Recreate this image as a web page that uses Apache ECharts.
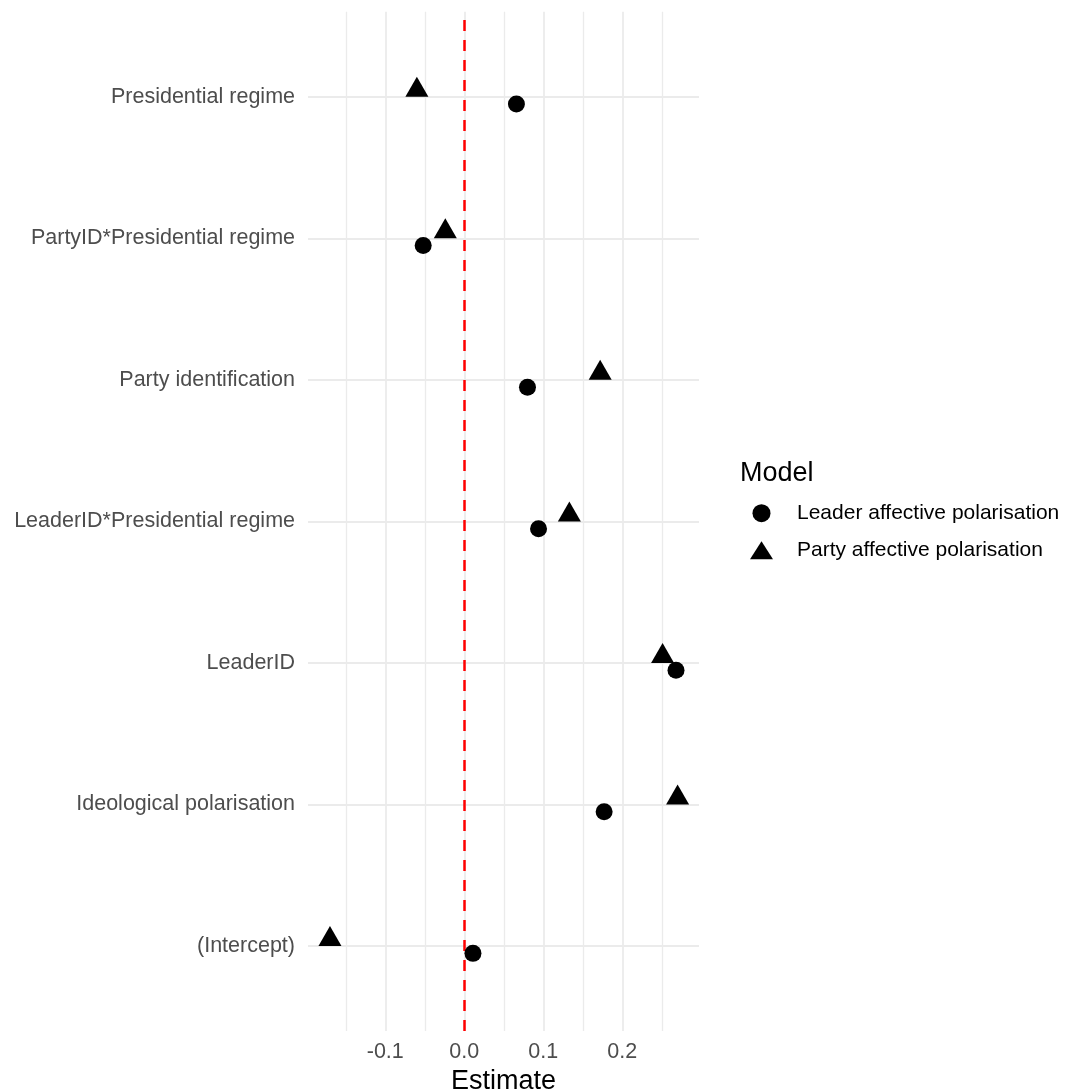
<!DOCTYPE html>
<html>
<head>
<meta charset="utf-8">
<title>Model estimates</title>
<script src="https://cdn.jsdelivr.net/npm/echarts@6/dist/echarts.min.js"></script>
<style>
  html, body { margin: 0; padding: 0; background: #ffffff; }
  #chart { width: 1079px; height: 1089px; }
</style>
</head>
<body>
<div id="chart"></div>
<script>
// Terms, listed from the top of the plot to the bottom
const terms = [
  'Presidential regime',
  'PartyID*Presidential regime',
  'Party identification',
  'LeaderID*Presidential regime',
  'LeaderID',
  'Ideological polarisation',
  '(Intercept)'
];

// Coefficient estimates for each model, in the same order as terms
const leaderEstimates = [0.066, -0.052, 0.080, 0.094, 0.268, 0.177, 0.011];
const partyEstimates  = [-0.060, -0.024, 0.172, 0.133, 0.251, 0.270, -0.170];

const seriesNames = ['Leader affective polarisation', 'Party affective polarisation'];

// Axis ticks
const xMajorTicks = [-0.1, 0.0, 0.1, 0.2];
const xMinorTicks = [-0.15, -0.05, 0.05, 0.15, 0.25];

// Terms sit at integer positions, top term highest
const termPositions = terms.map((t, i) => terms.length - i);
const termByPosition = {};
terms.forEach((t, i) => { termByPosition[termPositions[i]] = t; });

const FONT = '"Liberation Sans", Arial, Helvetica, sans-serif';
const GRID_COLOR = '#ebebeb';

const chart = echarts.init(document.getElementById('chart'), null, {
  renderer: 'canvas', width: 1079, height: 1089
});

const lineMarks = (data, width, color, type) => ({
  silent: true,
  symbol: 'none',
  z: 0,
  label: { show: false },
  emphasis: { disabled: true },
  animation: false,
  lineStyle: { color: color, width: width, type: type },
  data: data
});

chart.setOption({
  backgroundColor: '#ffffff',
  animation: false,
  textStyle: { fontFamily: FONT },
  title: {
    text: 'Model',
    left: 740,
    top: 460,
    padding: 0,
    textStyle: { fontFamily: FONT, fontSize: 27, fontWeight: 'normal', color: '#000000', lineHeight: 28 }
  },
  legend: {
    orient: 'vertical',
    left: 750,
    top: 502.7,
    padding: 0,
    itemWidth: 23,
    itemHeight: 18,
    itemGap: 16,
    selectedMode: false,
    textStyle: {
      fontFamily: FONT, fontSize: 21, color: '#000000', lineHeight: 18,
      padding: [0, 0, 0, 19]
    },
    data: [
      { name: seriesNames[0], icon: 'circle' },
      { name: seriesNames[1], icon: 'triangle' }
    ]
  },
  grid: {
    left: 308, right: 380, top: 11.8, bottom: 58,
    containLabel: false,
    outerBoundsMode: 'none'
  },
  xAxis: {
    type: 'value',
    min: -0.1978,
    max: 0.2971,
    name: 'Estimate',
    nameLocation: 'middle',
    nameGap: 33,
    nameTextStyle: { fontFamily: FONT, fontSize: 27, color: '#000000', lineHeight: 28 },
    axisLine: { show: false },
    axisTick: { show: false },
    splitLine: { show: false },
    axisLabel: {
      customValues: xMajorTicks,
      margin: 10,
      fontFamily: FONT,
      fontSize: 21.5,
      color: '#4d4d4d',
      formatter: v => v.toFixed(1)
    }
  },
  yAxis: {
    type: 'value',
    min: 0.4,
    max: 7.6,
    axisLine: { show: false },
    axisTick: { show: false },
    splitLine: { show: false },
    axisLabel: {
      customValues: termPositions,
      margin: 13,
      fontFamily: FONT,
      fontSize: 21.5,
      color: '#4d4d4d',
      formatter: v => termByPosition[Math.round(v)] || ''
    }
  },
  series: [
    {
      // panel grid lines
      type: 'line',
      data: [],
      silent: true,
      z: 0,
      markLine: lineMarks(
        termPositions.map(v => ({ yAxis: v }))
          .concat(xMajorTicks.map(v => ({ xAxis: v }))),
        1.8, GRID_COLOR, 'solid')
    },
    {
      type: 'line',
      data: [],
      silent: true,
      z: 0,
      markLine: lineMarks(xMinorTicks.map(v => ({ xAxis: v })), 1.3, GRID_COLOR, 'solid')
    },
    {
      // zero reference line
      type: 'line',
      data: [],
      silent: true,
      z: 1,
      markLine: Object.assign(lineMarks([{ xAxis: 0 }], 2.5, '#ff0000', [11, 9]), { z: 1 })
    },
    {
      name: seriesNames[0],
      type: 'scatter',
      z: 3,
      symbol: 'circle',
      symbolSize: 17,
      symbolOffset: [0, 7.3],
      itemStyle: { color: '#000000', opacity: 1 },
      emphasis: { disabled: true },
      data: leaderEstimates.map((v, i) => [v, termPositions[i]])
    },
    {
      name: seriesNames[1],
      type: 'scatter',
      z: 3,
      symbol: 'triangle',
      symbolSize: [23, 20],
      symbolOffset: [0, -10],
      itemStyle: { color: '#000000', opacity: 1 },
      emphasis: { disabled: true },
      data: partyEstimates.map((v, i) => [v, termPositions[i]])
    }
  ]
});
</script>
</body>
</html>
